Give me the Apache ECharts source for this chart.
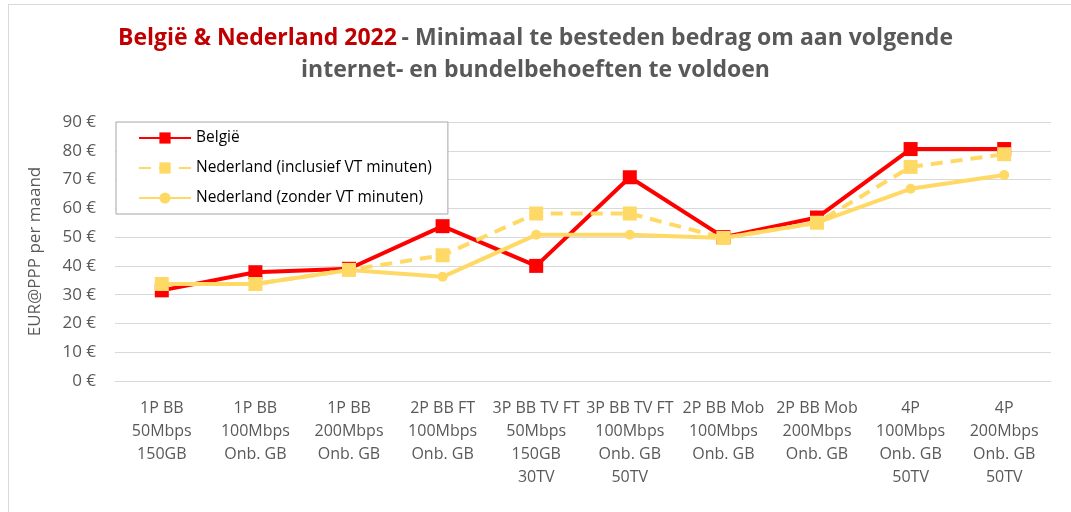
<!DOCTYPE html>
<html>
<head>
<meta charset="utf-8">
<script src="https://cdn.jsdelivr.net/npm/echarts@6/dist/echarts.min.js"></script>
<style>
  html, body { margin: 0; padding: 0; background: #fff; }
  #frame { position: absolute; left: 8px; top: 4px; width: 1070px; height: 520px; border: 1px solid #d9d9d9; box-sizing: border-box; }
  #chart { position: absolute; left: 0; top: 0; width: 1071px; height: 512px; }
</style>
</head>
<body>
<div id="frame"></div>
<div id="chart"></div>
<script>
const categories = [
  "1P BB\n50Mbps\n150GB",
  "1P BB\n100Mbps\nOnb. GB",
  "1P BB\n200Mbps\nOnb. GB",
  "2P BB FT\n100Mbps\nOnb. GB",
  "3P BB TV FT\n50Mbps\n150GB\n30TV",
  "3P BB TV FT\n100Mbps\nOnb. GB\n50TV",
  "2P BB Mob\n100Mbps\nOnb. GB",
  "2P BB Mob\n200Mbps\nOnb. GB",
  "4P\n100Mbps\nOnb. GB\n50TV",
  "4P\n200Mbps\nOnb. GB\n50TV"
];
const belgie = [31.5, 37.8, 39.0, 53.8, 40.0, 70.8, 50.0, 56.8, 80.6, 80.6];
const nlInclusief = [33.7, 33.7, 38.6, 43.7, 58.2, 58.2, 49.7, 55.0, 74.4, 78.8];
const nlZonder = [33.7, 33.7, 38.6, 36.2, 50.8, 50.8, 49.7, 55.0, 66.8, 71.6];
const yTicks = [0, 10, 20, 30, 40, 50, 60, 70, 80, 90];

const RED = "#ff0000";
const YELLOW = "#ffd966";
const GREY = "#595959";
const FONT = "Open Sans";

const chart = echarts.init(document.getElementById("chart"), null, { renderer: "canvas" });

const titleRich = {
  r: { color: "#c00000", fontSize: 23, fontWeight: "bold", fontFamily: FONT },
  g: { color: GREY, fontSize: 23, fontWeight: "bold", fontFamily: FONT }
};

chart.setOption({
  animation: false,
  backgroundColor: "transparent",
  textStyle: { fontFamily: FONT },
  title: [
    {
      left: "center",
      top: 27,
      padding: 0,
      text: "{r|België & Nederland 2022} {g|- Minimaal te besteden bedrag om aan volgende}",
      textStyle: { rich: titleRich }
    },
    {
      left: "center",
      top: 59,
      padding: 0,
      text: "{g|internet- en bundelbehoeften te voldoen}",
      textStyle: { rich: titleRich }
    }
  ],
  legend: {
    orient: "vertical",
    left: 116,
    top: 122,
    width: 332,
    padding: [8, 16, 8, 22],
    itemWidth: 52,
    itemHeight: 14,
    itemGap: 14,
    borderColor: "#a6a6a6",
    borderWidth: 1,
    backgroundColor: "#fff",
    textStyle: { color: "#000", fontSize: 15.5, fontFamily: FONT },
    data: ["België", "Nederland (inclusief VT minuten)", "Nederland (zonder VT minuten)"]
  },
  grid: { left: 115, right: 20, top: 122, bottom: 131, containLabel: false },
  xAxis: {
    type: "category",
    data: categories,
    boundaryGap: true,
    axisLine: { lineStyle: { color: "#d9d9d9", width: 1 } },
    axisTick: { show: false },
    axisLabel: { interval: 0, color: GREY, fontSize: 16, lineHeight: 23, margin: 16, fontFamily: FONT },
    splitLine: { show: false }
  },
  yAxis: {
    type: "value",
    min: yTicks[0],
    max: yTicks[yTicks.length - 1],
    interval: 10,
    name: "EUR@PPP per maand",
    nameLocation: "middle",
    nameGap: 71,
    nameTextStyle: { color: GREY, fontSize: 17, fontFamily: FONT },
    axisLine: { show: false },
    axisTick: { show: false },
    axisLabel: { color: GREY, fontSize: 17, margin: 19, formatter: (v) => v + " €", fontFamily: FONT },
    splitLine: { lineStyle: { color: "#d9d9d9", width: 1 } }
  },
  series: [
    {
      name: "België",
      type: "line",
      data: belgie,
      z: 3,
      symbol: "rect",
      symbolSize: 14,
      color: RED,
      lineStyle: { color: RED, width: 4 },
      itemStyle: { color: RED }
    },
    {
      name: "Nederland (inclusief VT minuten)",
      type: "line",
      data: nlInclusief,
      z: 4,
      symbol: "rect",
      symbolSize: 14,
      color: YELLOW,
      lineStyle: { color: YELLOW, width: 4, type: [12, 8] },
      itemStyle: { color: YELLOW }
    },
    {
      name: "Nederland (zonder VT minuten)",
      type: "line",
      data: nlZonder,
      z: 4,
      symbol: "circle",
      symbolSize: 10,
      color: YELLOW,
      lineStyle: { color: YELLOW, width: 4 },
      itemStyle: { color: YELLOW }
    }
  ]
});
</script>
</body>
</html>
